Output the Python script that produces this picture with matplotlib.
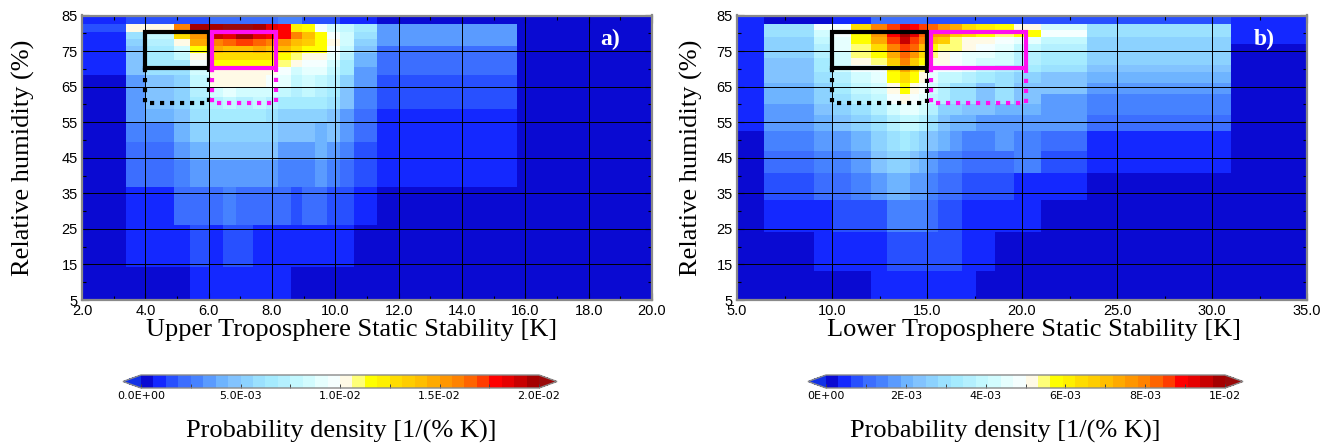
import numpy as np
import matplotlib
matplotlib.use("Agg")
import matplotlib.pyplot as plt
from matplotlib.colors import ListedColormap, BoundaryNorm
from matplotlib.lines import Line2D
import matplotlib.transforms as mtransforms

# ---------------- panel a: upper troposphere static stability ----------------
# bin edges (K) and relative humidity bin edges (%)
xa_edges = [2.0, 3.4, 4.0, 4.9, 5.4, 6.0, 6.45, 6.85, 7.4, 7.8, 8.2, 8.6,
            8.95, 9.35, 9.75, 10.15, 10.6, 11.3, 15.75, 20.0]
ya_edges = [5, 14.4, 26, 36.8, 44.3, 49.5, 55, 58.8, 62, 65, 68.2, 70.5,
            72.5, 74.5, 76.5, 78.5, 80.5, 82.7, 85]
# probability density, units of 1E-3 per (% K); rows bottom -> top
pdf_a = [
    [.3, .3, .3, .3, .9, .9, .9, .9, .9, .9, .9, .3, .3, .3, .3, .3, .3, .3, .2],
    [.3, .9, .9, .9, 1.4, .9, 1.4, 1.4, .9, .9, .9, .9, .9, .9, .9, .9, .3, .3, .2],
    [.3, .9, .9, 2.2, 2.2, 2.2, 2.8, 2.2, 2.2, 2.2, 2.2, 1.4, 2.4, 2.4, 1.4, 1.4, .9, .3, .2],
    [.3, 2.2, 2.2, 2.8, 3.3, 3.3, 3.3, 3.3, 3.3, 3.3, 2.8, 2.8, 2.8, 3.4, 2.8, 2.2, 1.4, .9, .2],
    [.3, 2.0, 2.4, 3.3, 4.2, 4.4, 4.4, 4.4, 4.4, 4.4, 3.4, 3.4, 3.4, 4.0, 3.4, 2.8, 1.6, .9, .2],
    [.3, 2.8, 3.0, 4.0, 5.2, 5.6, 5.3, 5.3, 5.6, 5.6, 4.6, 4.6, 4.6, 4.0, 4.6, 3.4, 2.3, .9, .2],
    [.3, 3.3, 4.0, 4.4, 5.8, 6.5, 6.5, 6.5, 6.5, 6.2, 5.2, 5.2, 5.2, 5.2, 4.4, 3.4, 2.3, .9, .2],
    [.3, 3.4, 4.6, 5.0, 6.5, 7.0, 7.5, 7.2, 7.5, 7.0, 6.5, 6.5, 6.5, 6.5, 6.0, 4.6, 2.8, 1.4, .2],
    [.3, 3.4, 4.6, 5.0, 7.0, 8.4, 9.0, 8.4, 8.4, 8.4, 7.8, 7.2, 7.8, 7.2, 6.5, 4.6, 2.8, 1.4, .2],
    [.3, 3.6, 4.8, 5.6, 7.5, 10.2, 10.0, 10.2, 10.0, 9.6, 9.0, 7.8, 8.4, 7.8, 7.2, 5.6, 3.4, 1.4, .2],
    [.9, 4.6, 5.8, 6.0, 8.6, 10.4, 10.4, 10.2, 10.2, 10.0, 9.6, 8.4, 9.0, 9.0, 7.8, 6.5, 3.6, 2.2, .2],
    [.9, 4.6, 6.5, 6.8, 9.4, 11.5, 11.8, 11.5, 11.5, 11.5, 11.0, 10.3, 9.8, 9.8, 8.2, 6.8, 4.0, 2.2, .2],
    [.9, 4.8, 6.5, 7.5, 10.4, 12.5, 13.0, 12.8, 13.0, 12.5, 11.5, 11.0, 10.2, 10.2, 9.0, 7.2, 4.2, 2.2, .2],
    [.9, 4.8, 6.5, 8.5, 11.5, 14.5, 14.0, 14.0, 14.5, 14.0, 14.0, 12.8, 11.5, 11.5, 9.6, 7.8, 4.6, 2.2, .2],
    [.9, 5.6, 7.0, 10.5, 14.5, 16.0, 16.5, 17.0, 16.5, 16.0, 15.3, 14.0, 13.4, 11.5, 10.2, 8.4, 5.6, 3.4, .2],
    [.9, 5.8, 7.5, 13.0, 15.5, 19.0, 18.5, 19.5, 18.5, 18.0, 17.8, 15.8, 14.0, 11.5, 9.6, 8.4, 5.8, 3.4, .2],
    [1.4, 10.2, 10.2, 16.2, 19.8, 19.8, 20.2, 20.2, 19.8, 18.5, 18.0, 12.0, 11.5, 9.8, 8.4, 7.5, 6.5, 3.4, .2],
    [1.0, 1.4, 1.4, 1.4, 1.4, 2.2, 2.2, 2.2, 2.2, 2.2, 2.5, 2.5, 1.4, 1.4, 1.4, .9, .9, .3, .2],
]

# ---------------- panel b: lower troposphere static stability ----------------
xb_edges = [5, 6.4, 9.05, 10.0, 11.0, 12.05, 12.9, 13.6, 14.1, 14.6, 15.0, 15.6,
            16.2, 16.85, 17.6, 18.6, 19.6, 21.0, 23.4, 31.0, 35]
yb_edges = [5, 13.1, 24, 33.2, 40.6, 46.8, 52.4, 57, 60, 63, 66, 69, 71, 73,
            75, 77, 79, 81, 82.7, 85]
pdf_b = [
    [.15, .15, .15, .15, .15, .45, .45, .45, .45, .45, .45, .45, .45, .45, .15, .15, .15, .15, .15, .15],
    [.15, .15, .45, .45, .45, .45, .8, .9, .8, .8, .8, .7, .7, .45, .45, .15, .15, .15, .15, .15],
    [.15, .45, .6, .8, .8, .8, 1.4, 1.4, 1.4, 1.4, 1.1, .8, .8, .45, .45, .45, .45, .15, .15, .15],
    [.15, .8, 1.1, 1.1, 1.4, 1.7, 1.9, 2.0, 1.7, 1.7, 1.4, 1.1, 1.1, .8, .8, .8, .45, .45, .15, .15],
    [.15, 1.1, 1.4, 1.4, 1.7, 2.35, 2.65, 2.8, 2.35, 2.0, 1.7, 1.4, 1.4, 1.1, 1.1, 1.1, 1.4, .8, .45, .15],
    [.15, 1.4, 1.7, 1.7, 2.0, 2.65, 3.0, 3.3, 3.0, 2.65, 2.35, 2.0, 1.7, 1.4, 1.4, 1.7, 1.4, 1.1, .5, .15],
    [.45, 1.7, 2.0, 2.35, 2.65, 3.0, 3.6, 3.9, 3.9, 3.6, 3.0, 2.35, 2.0, 2.0, 1.7, 1.7, 1.7, 1.7, 1.1, .15],
    [.45, 1.7, 2.35, 2.65, 3.0, 3.6, 4.2, 4.5, 4.5, 4.2, 3.6, 2.8, 2.8, 2.35, 2.35, 2.0, 2.0, 1.7, 1.4, .15],
    [.45, 2.0, 2.65, 2.95, 3.6, 3.9, 4.9, 5.2, 4.9, 4.5, 3.9, 3.6, 3.0, 2.95, 2.35, 2.95, 2.35, 1.7, 1.4, .15],
    [.45, 2.0, 2.8, 3.3, 3.9, 4.2, 5.2, 5.8, 5.2, 4.9, 4.2, 3.6, 3.0, 3.0, 2.35, 2.95, 2.35, 2.35, 1.7, .15],
    [.45, 2.35, 3.0, 3.6, 4.2, 4.5, 5.8, 6.4, 5.8, 5.2, 4.5, 3.9, 3.9, 3.6, 3.3, 2.95, 2.8, 2.35, 2.0, .15],
    [.45, 2.35, 3.3, 4.2, 4.85, 4.9, 6.2, 7.3, 6.4, 5.45, 4.9, 4.8, 4.85, 4.5, 3.9, 3.6, 3.3, 3.0, 2.35, .15],
    [.45, 2.35, 3.3, 4.2, 5.2, 5.45, 6.7, 8.0, 6.7, 5.8, 5.2, 5.1, 4.9, 4.5, 4.2, 4.2, 3.6, 3.3, 2.65, .15],
    [.45, 2.65, 3.6, 4.2, 5.45, 5.8, 7.3, 8.3, 7.6, 6.4, 5.45, 5.2, 4.9, 4.5, 4.5, 4.2, 3.6, 3.3, 2.65, .15],
    [.45, 2.65, 3.6, 4.5, 5.45, 6.4, 8.0, 8.6, 8.3, 7.0, 5.8, 5.45, 5.45, 5.0, 4.85, 4.5, 3.9, 3.6, 2.8, .15],
    [.45, 2.8, 3.9, 4.5, 5.8, 7.3, 8.6, 9.5, 8.6, 8.0, 7.0, 6.7, 5.45, 5.2, 5.0, 4.85, 4.5, 4.0, 2.8, .45],
    [.45, 2.95, 4.2, 4.85, 5.8, 7.6, 8.9, 9.85, 9.2, 8.3, 7.6, 7.8, 6.8, 6.4, 5.8, 5.45, 5.8, 4.85, 3.0, .45],
    [.45, 2.95, 4.85, 4.9, 6.4, 8.0, 8.7, 9.2, 8.9, 8.6, 8.3, 7.6, 7.3, 6.4, 6.2, 5.8, 5.0, 4.2, 3.0, .45],
    [.45, .2, .2, .5, .5, 1.1, 1.1, 1.1, 1.1, 1.1, .8, .8, .8, .7, .7, .7, .7, .7, .7, .5],
]

# colour bar ranges and labels
levels_a_max = 2.0e-2
levels_b_max = 1.0e-2
cb_ticks_a = [0.0, 5e-3, 1e-2, 1.5e-2, 2e-2]
cb_labels_a = ["0.0E+00", "5.0E-03", "1.0E-02", "1.5E-02", "2.0E-02"]
cb_ticks_b = [0.0, 2e-3, 4e-3, 6e-3, 8e-3, 1e-2]
cb_labels_b = ["0E+00", "2E-03", "4E-03", "6E-03", "8E-03", "1E-02"]

xticks_a = [2, 4, 6, 8, 10, 12, 14, 16, 18, 20]
xticks_b = [5, 10, 15, 20, 25, 30, 35]
yticks = [5, 15, 25, 35, 45, 55, 65, 75, 85]

# boxes: (x0, x1) for the two stability regimes, RH ranges for moist/dry
boxes_a = [(4, 6), (6, 8)]
boxes_b = [(10, 15), (15, 20)]
rh_moist = (70, 80)
rh_dry = (60, 70)

# 32-colour blue-white-red palette
palette = [
    "#0a0ad2", "#1428ff", "#2850ff", "#3c6eff", "#4682ff", "#5a9bff", "#6eb4ff", "#82c3ff",
    "#8cd2ff", "#9be1ff", "#a5ebff", "#b4f0ff", "#c3f8ff", "#d2fcff", "#e6ffff", "#f5ffff",
    "#fffae6", "#ffff78", "#ffff00", "#fff000", "#ffdc00", "#ffcd00", "#ffbe00", "#ffaa00",
    "#ff9600", "#ff8200", "#ff6400", "#ff3c00", "#ff0000", "#e60000", "#c80000", "#a50000",
]
cmap = ListedColormap(palette)
cmap.set_under("#1232e6")
cmap.set_over("#9b0a0a")

W, H = 1325, 443
fig = plt.figure(figsize=(W / 100, H / 100), dpi=100)


def px(l, t, r, b):
    return [l / W, 1 - b / H, (r - l) / W, (b - t) / H]


serif = ["Liberation Serif", "DejaVu Serif"]
sans = ["Liberation Sans", "DejaVu Sans"]
GRAY = "#8a8a8a"
LABEL_SIZE = 19


def draw_panel(ax, xe, ye, vals, vmax, xticks, xminor, boxes, tag):
    z = np.array(vals) * 1e-3
    bounds = np.linspace(0, vmax, 33)
    norm = BoundaryNorm(bounds, 32)
    m = ax.pcolormesh(xe, ye, z, cmap=cmap, norm=norm, shading="flat",
                      edgecolors="none", antialiased=False)
    ax.set_xlim(xe[0], xe[-1])
    ax.set_ylim(5, 85)
    ax.set_xticks(xticks)
    ax.set_xticks(xminor, minor=True)
    ax.set_yticks(yticks)
    ax.set_yticks([10, 20, 30, 40, 50, 60, 70, 80], minor=True)
    ax.set_xticklabels(["%.1f" % t for t in xticks], family=sans, fontsize=10.5)
    ax.set_yticklabels([str(t) for t in yticks], family=sans, fontsize=10.5)
    ax.tick_params(which="both", direction="in", top=True, right=True,
                   color="black")
    ax.tick_params(axis="x", pad=3)
    ax.tick_params(axis="y", pad=3)
    ax.tick_params(which="major", length=5, width=0.8)
    ax.tick_params(which="minor", length=3, width=0.8)
    for g in xticks[1:-1]:
        ax.axvline(g, color="black", lw=0.7, zorder=3)
    for g in yticks[1:-1]:
        ax.axhline(g, color="black", lw=0.7, zorder=3)
    for s in ax.spines.values():
        s.set_color(GRAY)
        s.set_linewidth(1.6)
        s.set_zorder(6)

    shifts = [0.0, 0.035]
    for (x0, x1), col, dx in zip(boxes, ["black", "#ff10f0"], shifts):
        tr = ax.transData + mtransforms.ScaledTranslation(dx, 0.01, fig.dpi_scale_trans)
        y0, y1 = rh_moist
        ax.add_line(Line2D([x0, x1, x1, x0, x0], [y0, y0, y1, y1, y0], color=col,
                           lw=3.0, transform=tr, zorder=5, solid_joinstyle="miter"))
        d0, d1 = rh_dry
        ax.add_line(Line2D([x0, x0, x1, x1], [d1, d0, d0, d1], color=col,
                           lw=3.0, ls=(0, (1, 1.4)), dash_capstyle="butt",
                           transform=tr, zorder=5))
    ax.text(1 - 32 / 570, 1 - 24 / 285, tag, transform=ax.transAxes, ha="right",
            va="center", color="white", fontsize=17, fontweight="bold",
            family=serif, zorder=7)
    return m


ax_a = fig.add_axes(px(82, 15.5, 652, 300))
ax_b = fig.add_axes(px(737, 15.5, 1307, 300))

m_a = draw_panel(ax_a, xa_edges, ya_edges, pdf_a, levels_a_max, xticks_a,
                 [3, 5, 7, 9, 11, 13, 15, 17, 19], boxes_a, "a)")
m_b = draw_panel(ax_b, xb_edges, yb_edges, pdf_b, levels_b_max, xticks_b,
                 [7.5, 12.5, 17.5, 22.5, 27.5, 32.5], boxes_b, "b)")

fig.text(23 / W, 1 - 158 / H, "Relative humidity (%)", rotation=90, ha="center",
         va="center", family=serif, fontsize=LABEL_SIZE)
fig.text(691 / W, 1 - 158 / H, "Relative humidity (%)", rotation=90, ha="center",
         va="center", family=serif, fontsize=LABEL_SIZE)
fig.text(352 / W, 1 - 330 / H, "Upper Troposphere Static Stability [K]",
         ha="center", va="center", family=serif, fontsize=LABEL_SIZE)
fig.text(1034 / W, 1 - 330 / H, "Lower Troposphere Static Stability [K]",
         ha="center", va="center", family=serif, fontsize=LABEL_SIZE)


def draw_cbar(m, bar_l, bar_r, ticks, labels, vmax, minor_step, label_x):
    tri = 18
    cax = fig.add_axes(px(bar_l - tri, 375, bar_r + tri, 388))
    cb = fig.colorbar(m, cax=cax, orientation="horizontal", extend="both",
                      extendfrac=tri / (bar_r - bar_l))
    cb.outline.set_edgecolor(GRAY)
    cb.outline.set_linewidth(1.0)
    cb.set_ticks(ticks)
    cb.set_ticklabels(labels)
    cax.set_xticks(np.arange(0, vmax + 1e-9, minor_step), minor=True)
    cax.tick_params(which="both", direction="in", length=3, width=0.7,
                    color="#444444", labelsize=8, pad=2)
    for t in cax.get_xticklabels():
        t.set_family(["DejaVu Sans"])
    fig.text(label_x / W, 1 - 431 / H, "Probability density [1/(% K)]",
             ha="center", va="center", family=serif, fontsize=LABEL_SIZE)


draw_cbar(m_a, 141, 539, cb_ticks_a, cb_labels_a, levels_a_max, 2.5e-3, 341)
draw_cbar(m_b, 826, 1225, cb_ticks_b, cb_labels_b, levels_b_max, 1e-3, 1005)

fig.savefig("out.png", dpi=100)
